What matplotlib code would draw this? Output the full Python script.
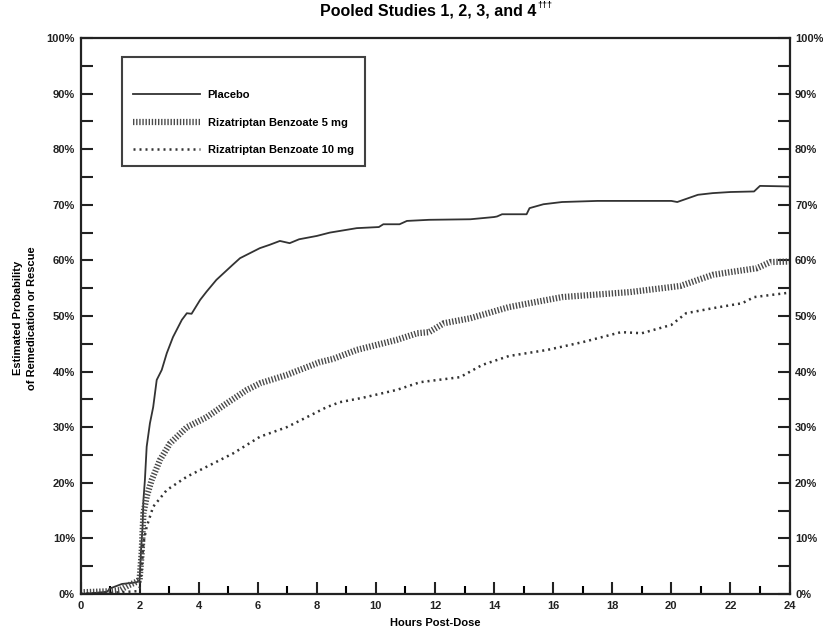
import matplotlib
matplotlib.use("Agg")
import matplotlib.pyplot as plt

plt.rcParams['font.family'] = ['Liberation Sans', 'DejaVu Sans']
plt.rcParams['font.weight'] = 'bold'

# ---- data ----
placebo_t = [0, 0.5, 0.9, 1.0, 1.4, 1.9, 2.0, 2.05, 2.1, 2.13, 2.18, 2.24, 2.35, 2.46, 2.58,
             2.75, 2.92, 3.13, 3.43, 3.6, 3.76, 4.05, 4.27, 4.6, 5.15, 5.4, 6.07, 6.4, 6.75,
             7.08, 7.4, 8.0, 8.44, 9.35, 10.1, 10.25, 10.8, 11.05, 11.8, 13.2, 14.0, 14.1,
             14.27, 15.1, 15.2, 15.67, 16.3, 17.5, 18.6, 20.0, 20.2, 20.9, 21.4, 22.0, 22.8,
             23.0, 24.0]
placebo_v = [0, 0.2, 0.4, 1.0, 1.8, 2.1, 2.5, 8, 12, 16.9, 20.5, 26.5, 30.7, 33.6, 38.5,
             40.3, 43.3, 46.2, 49.3, 50.5, 50.4, 52.9, 54.4, 56.5, 59.2, 60.4, 62.2, 62.8, 63.5,
             63.1, 63.8, 64.4, 65.0, 65.8, 66.0, 66.5, 66.5, 67.1, 67.3, 67.4, 67.8, 67.9,
             68.3, 68.3, 69.4, 70.1, 70.5, 70.7, 70.7, 70.7, 70.5, 71.8, 72.1, 72.3, 72.4,
             73.4, 73.3]

riza5_t = [0, 0.5, 1.0, 1.34, 1.6, 1.9, 2.0, 2.07, 2.13, 2.24, 2.41, 2.69, 3.03, 3.6, 4.27,
           4.95, 5.63, 6.08, 6.98, 7.66, 8.1, 8.56, 9.35, 10.7, 11.4, 11.8, 12.3, 13.2, 14.5,
           16.3, 18.6, 20.3, 21.4, 22.0, 22.9, 23.35, 24.0]
riza5_v = [0.3, 0.4, 0.5, 0.7, 1.5, 2.2, 2.5, 7.4, 14.5, 17.5, 20.5, 24.1, 27.1, 30.0, 31.8,
           34.3, 36.7, 37.9, 39.4, 40.8, 41.7, 42.3, 43.9, 45.7, 46.9, 47.1, 48.7, 49.6, 51.6,
           53.4, 54.3, 55.4, 57.4, 57.9, 58.6, 59.7, 59.8]

riza10_t = [0, 1.0, 1.9, 2.0, 2.07, 2.13, 2.24, 2.46, 2.92, 3.6, 4.5, 5.17, 6.08, 6.98, 7.66,
            8.33, 8.78, 9.56, 10.7, 11.5, 12.85, 13.6, 14.5, 15.8, 17.0, 18.3, 19.0, 20.0,
            20.5, 21.4, 22.4, 22.8, 24.0]
riza10_v = [0.1, 0.2, 0.5, 1.0, 4.5, 9.2, 12.1, 15.7, 18.7, 21.1, 23.5, 25.3, 28.3, 30.0, 31.8,
            33.6, 34.5, 35.3, 36.7, 38.1, 39.0, 41.2, 42.8, 43.9, 45.3, 47.1, 46.9, 48.4,
            50.5, 51.4, 52.3, 53.4, 54.2]

series_names = ['Placebo', 'Rizatriptan Benzoate 5 mg', 'Rizatriptan Benzoate 10 mg']
x_ticks = list(range(0, 25, 2))
y_ticks = list(range(0, 101, 10))
y_tick_labels = [f'{v}%' for v in y_ticks]

title_main = 'Pooled Studies 1, 2, 3, and 4'
title_sup = '†††'
xlabel = 'Hours Post-Dose'
ylabel = 'Estimated Probability\nof Remedication or Rescue'

# ---- figure ----
fig = plt.figure(figsize=(8.23, 6.36), dpi=100)
ax = fig.add_axes([80.5 / 823, 42 / 636, 709 / 823, 556 / 636])

c = '#333333'
l1, = ax.plot(placebo_t, placebo_v, color=c, lw=1.3, label=series_names[0])
l2, = ax.plot(riza5_t, riza5_v, color='#4a4a4a', lw=4.5, dashes=(0.22, 0.28),
              solid_capstyle='butt', dash_capstyle='butt', label=series_names[1])
l3, = ax.plot(riza10_t, riza10_v, color=c, lw=1.8, dashes=(0.8, 1.6),
              label=series_names[2])

ax.set_xlim(0, 24)
ax.set_ylim(0, 100)
ax.set_xticks(x_ticks)
ax.set_xticks(range(1, 24, 2), minor=True)
ax.set_yticks(y_ticks)
ax.set_yticklabels(y_tick_labels)
ax.set_yticks(range(5, 100, 10), minor=True)

for s in ax.spines.values():
    s.set_linewidth(1.6)
    s.set_color('#222222')

ax.tick_params(axis='x', which='major', direction='in', length=8.6, width=1.5,
               labelsize=8, pad=5, colors='#222222')
ax.tick_params(axis='x', which='minor', direction='in', length=6, width=1.5)
ax.tick_params(axis='y', which='both', direction='in', length=8.6, width=1.5,
               labelsize=8, left=True, right=True, labelleft=True, labelright=True,
               pad=4, colors='#222222')
for lab in ax.get_xticklabels() + ax.get_yticklabels():
    lab.set_fontweight('bold')

ax.set_xlabel(xlabel, fontsize=8, fontweight='bold', labelpad=5)
fig.text(25 / 823, (636 - 318) / 636, ylabel, rotation=90, ha='center', va='center',
         fontsize=8, fontweight='bold', linespacing=1.6)
tt = fig.text(428 / 823, 1 - 11 / 636, title_main, ha='center', va='center', fontsize=11.5,
              fontweight='bold')
fig.canvas.draw()
bb = tt.get_window_extent()
fig.text((bb.x1 + 1) / 823, 1 - 6 / 636, title_sup, ha='left', va='center', fontsize=6.5,
         fontweight='bold')

leg = ax.legend(handles=[l1, l2, l3], loc='upper left',
                bbox_to_anchor=((122 - 80.5) / 709, (594 - 57) / 556),
                title=' ', title_fontsize=4, fontsize=8, frameon=True, fancybox=False,
                edgecolor='#111111', handlelength=6.0, handletextpad=0.7,
                borderpad=1.0, labelspacing=1.55, borderaxespad=0)
leg.get_frame().set_linewidth(1.5)
for t in leg.get_texts():
    t.set_fontweight('bold')

fig.savefig('out.png', dpi=100)
